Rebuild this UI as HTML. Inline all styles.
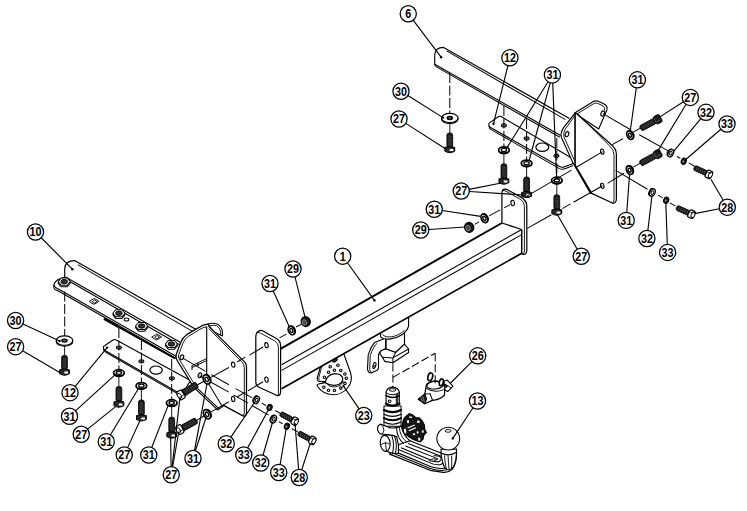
<!DOCTYPE html>
<html><head><meta charset="utf-8"><title>Towbar exploded view</title>
<style>html,body{margin:0;padding:0;background:#fff;overflow:hidden;font-family:"Liberation Sans",sans-serif}svg{display:block}svg text{font-family:"Liberation Sans",sans-serif}</style></head>
<body>
<svg width="747" height="511" viewBox="0 0 747 511">
<rect width="747" height="511" fill="#fff"/>
<path d="M343.7,353.5 L350.6,373.0 Q353.2,381.5 347.5,388.0 Q341.5,394.8 333.5,394.8 Q322.5,394.2 317.4,386.2 Q316.6,384.4 318.6,384.0 L325.2,382.6 L325,381.6 L318.6,381.4 Q316.8,379.8 317.3,377.6 L320.4,367.0 L320.4,364 Z" stroke="#000" stroke-width="1.12" fill="#fff" stroke-linejoin="round" stroke-linecap="round" />
<path d="M321.8,366.5 L318.8,377.4 Q318.6,379.6 319.8,380.4" stroke="#000" stroke-width="0.9" fill="none" stroke-linejoin="round" stroke-linecap="round" />
<path d="M325.2,382.6 Q326.5,374.8 334.5,373.6 Q342.6,373.6 342.8,379.4 Q342.2,384.8 334.5,385.4 Q329,385.6 325.4,382.8" stroke="#000" stroke-width="1.12" fill="none" stroke-linejoin="round" stroke-linecap="round" />
<path d="M327.8,384.6 Q329,387 334.6,386.9 Q341.4,386.4 343.2,381.5" stroke="#000" stroke-width="0.9" fill="none" stroke-linejoin="round" stroke-linecap="round" />
<ellipse cx="330.20" cy="366.80" rx="1.25" ry="1.25" stroke="#000" stroke-width="1.12" fill="#fff"/>
<ellipse cx="337.90" cy="365.20" rx="1.25" ry="1.25" stroke="#000" stroke-width="1.12" fill="#fff"/>
<ellipse cx="334.40" cy="370.30" rx="1.25" ry="1.25" stroke="#000" stroke-width="1.12" fill="#fff"/>
<ellipse cx="340.80" cy="370.50" rx="1.25" ry="1.25" stroke="#000" stroke-width="1.12" fill="#fff"/>
<ellipse cx="328.50" cy="372.30" rx="1.25" ry="1.25" stroke="#000" stroke-width="1.12" fill="#fff"/>
<ellipse cx="344.90" cy="374.00" rx="1.25" ry="1.25" stroke="#000" stroke-width="1.12" fill="#fff"/>
<ellipse cx="324.40" cy="377.30" rx="1.25" ry="1.25" stroke="#000" stroke-width="1.12" fill="#fff"/>
<ellipse cx="346.30" cy="378.20" rx="1.25" ry="1.25" stroke="#000" stroke-width="1.12" fill="#fff"/>
<ellipse cx="344.90" cy="383.40" rx="1.25" ry="1.25" stroke="#000" stroke-width="1.12" fill="#fff"/>
<ellipse cx="340.80" cy="388.10" rx="1.25" ry="1.25" stroke="#000" stroke-width="1.12" fill="#fff"/>
<ellipse cx="334.40" cy="390.50" rx="1.25" ry="1.25" stroke="#000" stroke-width="1.12" fill="#fff"/>
<ellipse cx="328.50" cy="390.30" rx="1.25" ry="1.25" stroke="#000" stroke-width="1.12" fill="#fff"/>
<ellipse cx="323.80" cy="387.30" rx="1.25" ry="1.25" stroke="#000" stroke-width="1.12" fill="#fff"/>
<ellipse cx="335.00" cy="360.30" rx="2.60" ry="1.30" stroke="#000" stroke-width="1.01" fill="#333" transform="rotate(-28 335.00 360.30)"/>
<path d="M386,333 L386,349 L395.6,352.5 L404.5,344.2 L404.5,326" stroke="#000" stroke-width="1.12" fill="#fff" stroke-linejoin="round" stroke-linecap="round" />
<path d="M380.5,330 L380.5,336.7 C384,340.6 394.2,339.7 401.1,335.3 C405.2,332.6 407.9,329.2 408.6,325.8 L408.6,315 Z" stroke="#000" stroke-width="1.12" fill="#fff" stroke-linejoin="round" stroke-linecap="round" />
<path d="M382.6,334.7 C386,338.5 396,338 404.5,330.5" stroke="#000" stroke-width="0.9" fill="none" stroke-linejoin="round" stroke-linecap="round" />
<path d="M386,349 Q381.5,349.6 380.5,351.1 L379.9,353.8 L382.6,357.3 L384.7,361.4 L392.9,362.7 L408.6,352.5 L408.6,349 L404.5,344.2 L395.6,352.5 Z" stroke="#000" stroke-width="1.12" fill="#fff" stroke-linejoin="round" stroke-linecap="round" />
<path d="M382.6,357.3 L392.9,357.9 L408.6,349 M392.9,357.9 L392.9,362.7 M392.9,357.9 L395.6,352.5" stroke="#000" stroke-width="1.01" fill="none" stroke-linejoin="round" stroke-linecap="round" />
<path d="M384,338.8 L375.1,342.2 Q371.5,345 368.2,355.2 L367.5,368.9 Q367.8,372.6 371,373 L377.1,370.3 Q378.4,369.6 378.5,368 L378.5,355.2 Q379,352.4 380.5,351.1 L385.6,348.4 L385.6,339" stroke="#000" stroke-width="1.12" fill="#fff" stroke-linejoin="round" stroke-linecap="round" />
<path d="M377,343.4 Q373.4,346 370.3,355.6 L369.7,369.4 Q370,372 371.4,372.6" stroke="#000" stroke-width="0.9" fill="none" stroke-linejoin="round" stroke-linecap="round" />
<ellipse cx="374.40" cy="365.50" rx="1.40" ry="3.20" stroke="#000" stroke-width="1.01" fill="#fff" transform="rotate(15 374.40 365.50)"/>
<ellipse cx="374.40" cy="366.20" rx="0.70" ry="1.30" stroke="#000" stroke-width="0.78" fill="none" transform="rotate(15 374.40 366.20)"/>
<path d="M280.5,348.8 L501.9,223.0 L521.7,229.5 L521.7,253.3 L281.6,388.8 Z" stroke="#000" stroke-width="0.0" fill="#fff" stroke-linejoin="round" stroke-linecap="round" stroke="none"/>
<line x1="280.50" y1="348.80" x2="501.90" y2="223.00" stroke="#000" stroke-width="1.96" />
<line x1="281.60" y1="364.80" x2="521.70" y2="229.50" stroke="#000" stroke-width="1.06" />
<line x1="281.60" y1="370.40" x2="521.70" y2="234.60" stroke="#000" stroke-width="1.06" />
<line x1="281.60" y1="388.80" x2="521.70" y2="253.30" stroke="#000" stroke-width="1.68" />
<path d="M255.8,337 Q255.8,330.6 261.5,330.3 L276,338.2 Q280.6,340.8 280.6,345.5 L280.6,391.5 Q280.6,396.5 276.5,395.3 L259,387.2 Q255.8,385.6 255.8,381.5 Z" stroke="#000" stroke-width="1.23" fill="#fff" stroke-linejoin="round" stroke-linecap="round" />
<path d="M257.0,332.6 Q258.5,332.2 260.6,333.2 L274.6,340.8 Q278.4,343 278.4,347 L278.4,393.6 Q278.3,395.6 276.8,395.4" stroke="#000" stroke-width="0.9" fill="none" stroke-linejoin="round" stroke-linecap="round" />
<ellipse cx="266.50" cy="345.20" rx="1.70" ry="2.60" stroke="#000" stroke-width="1.12" fill="#fff" transform="rotate(-10 266.50 345.20)"/>
<ellipse cx="266.50" cy="379.60" rx="1.70" ry="2.60" stroke="#000" stroke-width="1.12" fill="#fff" transform="rotate(-10 266.50 379.60)"/>
<path d="M501.9,223.0 L501.9,193.5 Q501.9,188.2 506.5,189.3 L520.5,196.9 Q526.8,200.6 526.8,206 L526.8,250 Q526.8,255 522.8,254.4 L521.7,253.3 L521.7,229.5 Z" stroke="#000" stroke-width="1.23" fill="#fff" stroke-linejoin="round" stroke-linecap="round" />
<path d="M503.0,190.6 Q504.4,190.4 506,191.2 L519.4,198.8 Q524.4,201.6 524.4,206.6 L524.4,251 Q524.3,254 522.8,254.4" stroke="#000" stroke-width="0.9" fill="none" stroke-linejoin="round" stroke-linecap="round" />
<line x1="521.70" y1="229.50" x2="521.70" y2="253.30" stroke="#000" stroke-width="1.01" />
<ellipse cx="512.70" cy="203.00" rx="1.80" ry="2.70" stroke="#000" stroke-width="1.12" fill="#fff" transform="rotate(-10 512.70 203.00)"/>
<path d="M103.4,347.2 Q103.2,349.6 105.5,350.8 L177.5,392.2 L186,388 L190.5,380.6 L116.2,340.0 Q114.6,339.0 113,340.0 L104.5,345.8 Q103.5,346.4 103.4,347.2 Z" stroke="#000" stroke-width="1.12" fill="#fff" stroke-linejoin="round" stroke-linecap="round" />
<path d="M103.5,348.8 Q103.8,351.0 105.8,352.3 L177.4,393.6" stroke="#000" stroke-width="1.01" fill="none" stroke-linejoin="round" stroke-linecap="round" />
<ellipse cx="118.90" cy="347.60" rx="2.50" ry="1.60" stroke="#000" stroke-width="1.01" fill="none"/>
<ellipse cx="118.90" cy="347.60" rx="1.20" ry="0.80" stroke="#000" stroke-width="0.9" fill="none"/>
<ellipse cx="141.40" cy="361.30" rx="2.50" ry="1.60" stroke="#000" stroke-width="1.01" fill="none"/>
<ellipse cx="141.40" cy="361.30" rx="1.20" ry="0.80" stroke="#000" stroke-width="0.9" fill="none"/>
<ellipse cx="171.90" cy="378.30" rx="2.50" ry="1.60" stroke="#000" stroke-width="1.01" fill="none"/>
<ellipse cx="171.90" cy="378.30" rx="1.20" ry="0.80" stroke="#000" stroke-width="0.9" fill="none"/>
<ellipse cx="156.10" cy="370.10" rx="6.20" ry="4.10" stroke="#000" stroke-width="1.23" fill="none"/>
<path d="M64.7,277.3 L64.7,268.5 Q65.2,260.6 74.6,260.6 L196.6,329.8 L181,343 L175.8,358.2 L57.5,290.6 Q53,289 53.8,284 L58,279.5 Z" stroke="#000" stroke-width="0.0" fill="#fff" stroke-linejoin="round" stroke-linecap="round" stroke="none"/>
<path d="M64.7,277.3 L64.7,268.5 Q65.2,260.6 74.6,260.6 L196.6,329.8" stroke="#000" stroke-width="1.12" fill="none" stroke-linejoin="round" stroke-linecap="round" />
<line x1="77.80" y1="264.60" x2="193.00" y2="331.60" stroke="#000" stroke-width="1.01" />
<line x1="65.50" y1="277.00" x2="181.50" y2="343.00" stroke="#000" stroke-width="1.01" />
<line x1="65.00" y1="278.80" x2="180.50" y2="345.20" stroke="#000" stroke-width="1.01" />
<path d="M64.7,277.3 L58,279.5 Q53,283 53.8,287.6 Q54.5,290 57.5,290.6 L175.8,358.2" stroke="#000" stroke-width="1.12" fill="none" stroke-linejoin="round" stroke-linecap="round" />
<path d="M54.2,285.3 Q55,288 58,288.8 L176,356.2" stroke="#000" stroke-width="1.01" fill="none" stroke-linejoin="round" stroke-linecap="round" />
<line x1="104.00" y1="318.60" x2="119.00" y2="327.20" stroke="#000" stroke-width="2.46" />
<line x1="119.00" y1="327.20" x2="175.00" y2="358.50" stroke="#000" stroke-width="1.79" />
<path d="M89.5,301.3 L94.3,298.40000000000003 L99.1,301.3 L94.3,304.2 Z M92.49999999999999,301.5 L94.7,299.85 L97.10000000000001,301.5 L94.7,303.05 Z" stroke="#000" stroke-width="0.9" fill="none" stroke-linejoin="round" stroke-linecap="round" />
<path d="M152.0,336.9 L156.8,334.0 L161.60000000000002,336.9 L156.8,339.79999999999995 Z M155.0,337.09999999999997 L157.20000000000002,335.45 L159.60000000000002,337.09999999999997 L157.20000000000002,338.65 Z" stroke="#000" stroke-width="0.9" fill="none" stroke-linejoin="round" stroke-linecap="round" />
<ellipse cx="126.50" cy="319.60" rx="2.30" ry="1.50" stroke="#000" stroke-width="1.01" fill="none"/>
<path d="M58.10,283.20 L61.03,279.66 L67.37,279.66 L70.30,283.20 L67.37,286.74 L61.03,286.74 Z" stroke="#000" stroke-width="1.01" fill="#fff" stroke-linejoin="round" stroke-linecap="round" />
<path d="M58.10,281.60 L61.03,278.06 L67.37,278.06 L70.30,281.60 L67.37,285.14 L61.03,285.14 Z" stroke="#000" stroke-width="1.01" fill="#fff" stroke-linejoin="round" stroke-linecap="round" />
<ellipse cx="64.20" cy="281.60" rx="3.29" ry="2.20" stroke="#000" stroke-width="0.9" fill="#333"/>
<path d="M112.80,314.90 L115.73,311.36 L122.07,311.36 L125.00,314.90 L122.07,318.44 L115.73,318.44 Z" stroke="#000" stroke-width="1.01" fill="#fff" stroke-linejoin="round" stroke-linecap="round" />
<path d="M112.80,313.30 L115.73,309.76 L122.07,309.76 L125.00,313.30 L122.07,316.84 L115.73,316.84 Z" stroke="#000" stroke-width="1.01" fill="#fff" stroke-linejoin="round" stroke-linecap="round" />
<ellipse cx="118.90" cy="313.30" rx="3.29" ry="2.20" stroke="#000" stroke-width="0.9" fill="#333"/>
<path d="M135.50,327.60 L138.43,324.06 L144.77,324.06 L147.70,327.60 L144.77,331.14 L138.43,331.14 Z" stroke="#000" stroke-width="1.01" fill="#fff" stroke-linejoin="round" stroke-linecap="round" />
<path d="M135.50,326.00 L138.43,322.46 L144.77,322.46 L147.70,326.00 L144.77,329.54 L138.43,329.54 Z" stroke="#000" stroke-width="1.01" fill="#fff" stroke-linejoin="round" stroke-linecap="round" />
<ellipse cx="141.60" cy="326.00" rx="3.29" ry="2.20" stroke="#000" stroke-width="0.9" fill="#333"/>
<path d="M165.30,345.60 L168.23,342.06 L174.57,342.06 L177.50,345.60 L174.57,349.14 L168.23,349.14 Z" stroke="#000" stroke-width="1.01" fill="#fff" stroke-linejoin="round" stroke-linecap="round" />
<path d="M165.30,344.00 L168.23,340.46 L174.57,340.46 L177.50,344.00 L174.57,347.54 L168.23,347.54 Z" stroke="#000" stroke-width="1.01" fill="#fff" stroke-linejoin="round" stroke-linecap="round" />
<ellipse cx="171.40" cy="344.00" rx="3.29" ry="2.20" stroke="#000" stroke-width="0.9" fill="#333"/>
<path d="M208,324 Q212,322.4 217.1,324.0 Q221.6,326.5 222.4,331 L222.5,336 L214,332 Z" stroke="#000" stroke-width="1.12" fill="#fff" stroke-linejoin="round" stroke-linecap="round" />
<path d="M210.5,325.6 Q214,324.6 216.6,325.8 Q219.8,327.6 220.6,331.2 L220.7,334.4" stroke="#000" stroke-width="0.9" fill="none" stroke-linejoin="round" stroke-linecap="round" />
<path d="M208,324.2 Q203,324.6 199,327.4 L187,334.4 Q182.5,337.5 180.8,342.2 L176.2,354.5 Q175.4,357.6 177.0,360.2 L193.8,387.4 L217.6,409.9 L224,405.6 L242.5,415.6 Q246.5,417.4 246.5,412.5 L246.5,367 Q246.5,362.8 243,360.4 L209,326.6 Q208.6,324.4 208,324.2 Z" stroke="#000" stroke-width="1.23" fill="#fff" stroke-linejoin="round" stroke-linecap="round" />
<path d="M206.7,326.8 Q203,327.2 200,329.3 L188.5,336.3 Q184.6,338.8 183,343 L178.6,355 Q178,357.3 179.3,359.4 L195.2,385.4" stroke="#000" stroke-width="0.9" fill="none" stroke-linejoin="round" stroke-linecap="round" />
<line x1="206.70" y1="326.80" x2="206.70" y2="377.50" stroke="#000" stroke-width="1.12" />
<path d="M209,328.8 L241.5,361.6 Q244.3,364 244.3,367.5 L244.3,413 Q244.2,415.8 242.6,415.7" stroke="#000" stroke-width="0.9" fill="none" stroke-linejoin="round" stroke-linecap="round" />
<line x1="207.20" y1="381.50" x2="222.20" y2="406.20" stroke="#000" stroke-width="1.01" />
<line x1="195.00" y1="386.20" x2="218.60" y2="408.40" stroke="#000" stroke-width="1.01" />
<ellipse cx="181.90" cy="357.30" rx="1.70" ry="2.50" stroke="#000" stroke-width="1.12" fill="#fff" transform="rotate(20 181.90 357.30)"/>
<ellipse cx="199.90" cy="375.30" rx="1.70" ry="2.50" stroke="#000" stroke-width="1.12" fill="#fff" transform="rotate(20 199.90 375.30)"/>
<ellipse cx="233.20" cy="364.70" rx="1.70" ry="2.60" stroke="#000" stroke-width="1.12" fill="#fff" transform="rotate(-10 233.20 364.70)"/>
<ellipse cx="233.20" cy="399.00" rx="1.70" ry="2.60" stroke="#000" stroke-width="1.12" fill="#fff" transform="rotate(-10 233.20 399.00)"/>
<path d="M192,365.6 L206.5,358.6 M192,367.6 L206.5,360.6 M192,365.6 L192,369.5 M198,363 L198,366" stroke="#000" stroke-width="1.01" fill="none" stroke-linejoin="round" stroke-linecap="round" />
<path d="M488.8,124.3 Q488.6,126.4 490.6,127.5 L559.5,166.6 Q562,167.8 564.5,166.8 L572,164.0 L575,160 L501.2,116.6 Q499.6,115.8 498.2,116.8 L489.8,122.6 Q488.9,123.3 488.8,124.3 Z" stroke="#000" stroke-width="1.12" fill="#fff" stroke-linejoin="round" stroke-linecap="round" />
<path d="M489.0,126.4 Q489.4,128.6 491.2,129.6 L559.4,168.6 Q562.4,169.8 565,168.8 L572.6,165.8" stroke="#000" stroke-width="1.01" fill="none" stroke-linejoin="round" stroke-linecap="round" />
<ellipse cx="503.90" cy="125.40" rx="2.50" ry="1.60" stroke="#000" stroke-width="1.01" fill="none"/>
<ellipse cx="503.90" cy="125.40" rx="1.20" ry="0.80" stroke="#000" stroke-width="0.9" fill="none"/>
<ellipse cx="526.60" cy="138.40" rx="2.50" ry="1.60" stroke="#000" stroke-width="1.01" fill="none"/>
<ellipse cx="526.60" cy="138.40" rx="1.20" ry="0.80" stroke="#000" stroke-width="0.9" fill="none"/>
<ellipse cx="556.40" cy="155.80" rx="2.50" ry="1.60" stroke="#000" stroke-width="1.01" fill="none"/>
<ellipse cx="556.40" cy="155.80" rx="1.20" ry="0.80" stroke="#000" stroke-width="0.9" fill="none"/>
<ellipse cx="542.30" cy="147.20" rx="6.40" ry="4.20" stroke="#000" stroke-width="1.23" fill="none"/>
<path d="M434.7,64.2 L434.7,55 Q435,47.4 443.6,47.4 L569,118.2 L560.5,136.6 Z" stroke="#000" stroke-width="0.0" fill="#fff" stroke-linejoin="round" stroke-linecap="round" stroke="none"/>
<path d="M434.7,64.2 L434.7,55 Q435,47.4 443.6,47.4 L569,118.2" stroke="#000" stroke-width="1.12" fill="none" stroke-linejoin="round" stroke-linecap="round" />
<line x1="446.60" y1="50.90" x2="565.40" y2="119.60" stroke="#000" stroke-width="1.01" />
<line x1="434.70" y1="64.20" x2="560.60" y2="135.40" stroke="#000" stroke-width="1.12" />
<line x1="435.60" y1="66.40" x2="559.80" y2="137.20" stroke="#000" stroke-width="1.01" />
<line x1="434.70" y1="64.20" x2="435.60" y2="66.40" stroke="#000" stroke-width="1.01" />
<path d="M575.2,112.8 L592.5,102.0 Q595.4,100.2 598.4,101.2 L604.5,104.2 Q608,106.4 606.8,110 L598.7,129 L576,114 Z" stroke="#000" stroke-width="1.12" fill="#fff" stroke-linejoin="round" stroke-linecap="round" />
<path d="M577.2,113.8 L593.5,103.8 Q595.6,102.6 597.8,103.4 L603.2,106 Q605.4,107.4 604.6,110" stroke="#000" stroke-width="0.9" fill="none" stroke-linejoin="round" stroke-linecap="round" />
<ellipse cx="602.70" cy="113.50" rx="1.70" ry="2.60" stroke="#000" stroke-width="1.12" fill="#fff" transform="rotate(20 602.70 113.50)"/>
<path d="M575.2,112.8 L563.6,127.6 Q560.2,132.6 561.3,137.2 L572.9,162.8 L590.5,193.4 L591.7,193.4 L575.2,165 Z" stroke="#000" stroke-width="1.12" fill="#fff" stroke-linejoin="round" stroke-linecap="round" />
<path d="M574.2,116.6 L565.6,128.6 Q563,132.6 563.8,136.6 L575.2,162.0 L592.6,192.0" stroke="#000" stroke-width="0.9" fill="none" stroke-linejoin="round" stroke-linecap="round" />
<line x1="575.20" y1="112.80" x2="575.20" y2="165.20" stroke="#000" stroke-width="1.12" />
<ellipse cx="567.00" cy="134.20" rx="1.70" ry="2.60" stroke="#000" stroke-width="1.12" fill="#fff" transform="rotate(20 567.00 134.20)"/>
<path d="M576.4,113.5 L610.8,144.2 Q616.4,148.4 616.4,154.5 L616.4,198.5 Q616.4,204 611.8,202.8 L591.7,193.4 L575.2,165.2 L575.2,112.8 Z" stroke="#000" stroke-width="1.23" fill="#fff" stroke-linejoin="round" stroke-linecap="round" />
<path d="M578.6,114.6 L609.4,145.8 Q614,149.4 614,155 L614,199.6 Q614,202.6 612.4,202.9" stroke="#000" stroke-width="0.9" fill="none" stroke-linejoin="round" stroke-linecap="round" />
<ellipse cx="602.30" cy="151.60" rx="1.70" ry="2.60" stroke="#000" stroke-width="1.12" fill="#fff" transform="rotate(-10 602.30 151.60)"/>
<ellipse cx="602.30" cy="185.90" rx="1.70" ry="2.60" stroke="#000" stroke-width="1.12" fill="#fff" transform="rotate(-10 602.30 185.90)"/>
<path d="M398.42,442.12 L409.87,440.71 L441.57,453.21 L456.54,451.81 Q456.89,463.25 452.13,469.42 Q447.73,473.47 441.57,472.06 L430.12,470.30 L389.61,454.10 Z " stroke="#000" stroke-width="1.23" fill="#fff" stroke-linejoin="round" stroke-linecap="round" />
<line x1="408.10" y1="443.53" x2="441.04" y2="456.21" stroke="#000" stroke-width="1.01" />
<line x1="405.46" y1="445.99" x2="438.04" y2="458.85" stroke="#000" stroke-width="1.01" />
<line x1="401.06" y1="447.75" x2="433.99" y2="461.49" stroke="#000" stroke-width="1.12" />
<line x1="398.42" y1="449.52" x2="431.88" y2="463.61" stroke="#000" stroke-width="1.01" />
<line x1="394.90" y1="451.63" x2="431.00" y2="466.78" stroke="#000" stroke-width="1.12" />
<line x1="392.78" y1="453.04" x2="430.12" y2="468.54" stroke="#000" stroke-width="1.01" />
<path d="M433.99,461.49 Q441.57,462.90 441.04,457.97 Q439.81,455.33 433.99,455.86 " stroke="#000" stroke-width="1.01" fill="none" stroke-linejoin="round" stroke-linecap="round" />
<path d="M431.88,463.61 Q442.45,466.78 443.86,461.49 " stroke="#000" stroke-width="1.01" fill="none" stroke-linejoin="round" stroke-linecap="round" />
<path d="M431.00,466.78 Q443.33,470.30 447.73,466.78 " stroke="#000" stroke-width="1.01" fill="none" stroke-linejoin="round" stroke-linecap="round" />
<path d="M430.12,468.54 Q442.45,472.06 449.49,468.89 " stroke="#000" stroke-width="1.01" fill="none" stroke-linejoin="round" stroke-linecap="round" />
<path d="M430.12,459.73 Q433.64,457.97 437.52,459.38 Q433.99,461.84 430.12,461.14 Z " stroke="#000" stroke-width="0.9" fill="#fff" stroke-linejoin="round" stroke-linecap="round" />
<path d="M441.04,449.16 L441.04,453.57 Q442.10,463.25 445.09,468.18 Q449.49,472.06 453.37,466.78 Q456.54,461.49 456.54,449.16 Z " stroke="#000" stroke-width="1.12" fill="#fff" stroke-linejoin="round" stroke-linecap="round" />
<path d="M441.04,453.04 Q448.79,457.09 456.54,452.33 " stroke="#000" stroke-width="1.12" fill="none" stroke-linejoin="round" stroke-linecap="round" />
<path d="M444.56,455.86 Q444.91,463.25 446.32,468.89 " stroke="#000" stroke-width="0.9" fill="none" stroke-linejoin="round" stroke-linecap="round" />
<path d="M448.08,455.86 Q448.44,463.25 448.96,468.89 " stroke="#000" stroke-width="0.9" fill="none" stroke-linejoin="round" stroke-linecap="round" />
<path d="M451.61,455.86 Q451.96,463.25 451.61,468.89 " stroke="#000" stroke-width="0.9" fill="none" stroke-linejoin="round" stroke-linecap="round" />
<circle cx="448.26" cy="438.60" r="11.4" fill="#fff" stroke="#000" stroke-width="1.1"/>
<ellipse cx="448.08" cy="430.85" rx="3.00" ry="1.40" stroke="#000" stroke-width="0.9" fill="none"/>
<path d="M402.46,423.62 L403.58,419.16 L406.18,416.18 L409.16,413.58 L412.88,415.07 L415.86,417.67 L419.58,418.04 L422.55,421.39 L424.41,425.11 L424.79,429.58 L426.42,432.55 L424.04,434.79 L422.93,439.25 L420.32,441.85 L416.60,440.74 L412.88,439.25 L409.16,437.02 L405.44,434.04 L402.61,430.32 Z" stroke="#000" stroke-width="1.12" fill="#151515" stroke-linejoin="round" stroke-linecap="round" />
<path d="M407.30,427.49 L414.52,424.52 L414.96,425.56 L407.82,428.54 Z" fill="#fff" stroke="none"/>
<path d="M408.42,430.17 L415.71,427.20 L416.15,428.24 L409.01,431.21 Z" fill="#fff" stroke="none"/>
<path d="M403.80,429.21 L405.81,428.46 L406.33,432.93 L404.70,433.67 Z" fill="#fff" stroke="none"/>
<path d="M409.16,416.33 L411.99,416.78 L412.14,418.12 L409.31,417.82 Z" fill="#fff" stroke="none"/>
<path d="M416.97,420.80 L419.43,420.50 L419.73,422.73 L417.20,423.03 Z" fill="#fff" stroke="none"/>
<path d="M412.88,433.45 L414.96,433.15 L415.26,434.93 L413.18,435.23 Z" fill="#fff" stroke="none"/>
<path d="M416.60,431.51 L418.39,431.21 L418.68,433.15 L416.90,433.45 Z" fill="#fff" stroke="none"/>
<path d="M421.81,430.47 L423.60,430.17 L423.74,432.40 L421.96,432.70 Z" fill="#fff" stroke="none"/>
<path d="M418.09,437.91 L420.17,437.61 L420.32,440.59 L418.39,440.74 Z" fill="#fff" stroke="none"/>
<path d="M406.93,420.28 L408.79,419.90 L409.16,422.88 L407.30,423.25 Z" fill="#fff" stroke="none"/>
<path d="M383.98,425.39 L383.98,430.67 Q385.21,436.84 389.61,439.48 L398.42,444.76 L409.87,440.71 Q403.35,435.95 401.06,425.39 Z " stroke="#000" stroke-width="1.12" fill="#fff" stroke-linejoin="round" stroke-linecap="round" />
<path d="M396.66,428.03 Q396.66,437.72 403.70,443.53 " stroke="#000" stroke-width="1.01" fill="none" stroke-linejoin="round" stroke-linecap="round" />
<path d="M399.30,427.15 Q399.83,436.84 406.87,442.12 " stroke="#000" stroke-width="0.9" fill="none" stroke-linejoin="round" stroke-linecap="round" />
<rect x="383.98" y="406.01" width="17.08" height="20.25" fill="#fff" stroke="#000" stroke-width="1"/>
<path d="M383.98,410.07 Q392.43,414.29 401.06,410.07 " stroke="#000" stroke-width="2.24" fill="none" stroke-linejoin="round" stroke-linecap="round" />
<path d="M383.98,414.29 Q392.43,418.52 401.06,414.29 " stroke="#000" stroke-width="1.12" fill="none" stroke-linejoin="round" stroke-linecap="round" />
<path d="M383.98,418.17 Q392.43,422.39 401.06,418.17 " stroke="#000" stroke-width="2.02" fill="none" stroke-linejoin="round" stroke-linecap="round" />
<path d="M383.98,422.04 Q392.43,426.27 401.06,422.04 " stroke="#000" stroke-width="1.01" fill="none" stroke-linejoin="round" stroke-linecap="round" />
<path d="M383.98,425.92 Q392.43,430.14 401.06,425.92 " stroke="#000" stroke-width="1.12" fill="none" stroke-linejoin="round" stroke-linecap="round" />
<path d="M386.09,403.73 L386.09,391.93 Q386.79,387.87 392.61,387.17 Q398.42,387.87 399.30,391.93 L399.30,403.73 Q392.61,407.60 386.09,403.73 Z " stroke="#000" stroke-width="1.12" fill="#fff" stroke-linejoin="round" stroke-linecap="round" />
<path d="M386.09,392.81 Q392.61,396.68 399.30,392.81 " stroke="#000" stroke-width="1.01" fill="none" stroke-linejoin="round" stroke-linecap="round" />
<path d="M386.09,395.62 Q392.61,399.50 399.30,395.62 " stroke="#000" stroke-width="1.57" fill="none" stroke-linejoin="round" stroke-linecap="round" />
<ellipse cx="392.61" cy="389.99" rx="3.40" ry="1.30" stroke="#000" stroke-width="0.9" fill="none"/>
<ellipse cx="389.61" cy="401.26" rx="1.40" ry="1.20" stroke="#000" stroke-width="1.01" fill="none"/>
<path d="M397.71,394.21 L397.71,404.43 M396.30,394.92 L396.30,405.13 " stroke="#000" stroke-width="1.01" fill="none" stroke-linejoin="round" stroke-linecap="round" />
<path d="M386.09,403.73 Q392.61,407.95 399.30,403.73 " stroke="#000" stroke-width="2.46" fill="none" stroke-linejoin="round" stroke-linecap="round" />
<path d="M388.73,427.15 L380.81,424.15 Q376.93,425.39 377.64,429.79 Q378.69,433.67 381.69,434.02 L389.61,435.07 " stroke="#000" stroke-width="1.12" fill="#fff" stroke-linejoin="round" stroke-linecap="round" />
<path d="M380.81,424.15 Q383.62,426.27 383.98,430.14 Q383.62,433.31 381.69,434.02 " stroke="#000" stroke-width="0.9" fill="none" stroke-linejoin="round" stroke-linecap="round" />
<path d="M385.21,435.07 Q392.25,434.37 396.66,436.84 L398.42,444.76 L398.42,453.04 Q392.78,454.45 386.09,450.92 Z " stroke="#000" stroke-width="1.12" fill="#fff" stroke-linejoin="round" stroke-linecap="round" />
<ellipse cx="385.21" cy="443.35" rx="4.90" ry="8.00" stroke="#000" stroke-width="1.12" fill="#fff" transform="rotate(-6 385.21 443.35)"/>
<path d="M380.81,444.76 Q385.21,441.24 389.26,443.88 M385.38,442.82 L386.44,450.92 " stroke="#000" stroke-width="0.9" fill="none" stroke-linejoin="round" stroke-linecap="round" />
<path d="M391.73,435.43 Q394.90,443.88 392.43,453.74 M394.54,436.13 Q397.71,444.23 395.25,453.74 " stroke="#000" stroke-width="1.01" fill="none" stroke-linejoin="round" stroke-linecap="round" />
<path d="M444.26,381.04 L447.19,380.06 L452.87,386.23 L447.68,391.52 L443.77,389.36 Z " stroke="#000" stroke-width="1.12" fill="#fff" stroke-linejoin="round" stroke-linecap="round" />
<path d="M444.84,383.98 L447.68,385.64 L446.41,387.60 L444.26,386.43 Z " stroke="#000" stroke-width="0.9" fill="#222" stroke-linejoin="round" stroke-linecap="round" />
<path d="M447.68,385.64 L451.11,387.89 " stroke="#000" stroke-width="0.9" fill="none" stroke-linejoin="round" stroke-linecap="round" />
<path d="M426.15,385.64 L424.88,394.06 L418.32,399.15 L424.68,403.75 L432.32,400.32 Q439.36,399.93 444.45,395.24 L444.84,387.89 Q444.26,382.02 434.96,381.04 Q427.13,381.73 426.15,385.64 Z " stroke="#000" stroke-width="1.23" fill="#fff" stroke-linejoin="round" stroke-linecap="round" />
<ellipse cx="435.25" cy="385.06" rx="8.40" ry="3.90" stroke="#000" stroke-width="1.12" fill="none" transform="rotate(-6 435.25 385.06)"/>
<path d="M426.64,388.38 Q434.47,393.77 444.45,389.36 " stroke="#000" stroke-width="1.01" fill="none" stroke-linejoin="round" stroke-linecap="round" />
<path d="M430.06,393.77 L432.51,400.13 " stroke="#000" stroke-width="1.01" fill="none" stroke-linejoin="round" stroke-linecap="round" />
<path d="M424.88,394.06 L430.06,393.77 " stroke="#000" stroke-width="0.9" fill="none" stroke-linejoin="round" stroke-linecap="round" />
<path d="M418.32,399.15 L424.88,394.06 L426.64,398.95 L424.68,403.75 Z " stroke="#000" stroke-width="1.01" fill="#222" stroke-linejoin="round" stroke-linecap="round" />
<path d="M420.77,397.68 L422.23,401.60 M422.72,396.21 L424.29,402.09 " stroke="#000" stroke-width="0.56" fill="none" stroke-linejoin="round" stroke-linecap="round" style="stroke:#bbb"/>
<ellipse cx="430.26" cy="376.83" rx="2.30" ry="4.00" stroke="#000" stroke-width="1.68" fill="#fff" transform="rotate(14 430.26 376.83)"/>
<ellipse cx="441.32" cy="382.32" rx="1.90" ry="3.50" stroke="#000" stroke-width="1.57" fill="#fff" transform="rotate(14 441.32 382.32)"/>
<line x1="64.70" y1="291.50" x2="64.70" y2="336.00" stroke="#000" stroke-width="1.01" stroke-dasharray="10 2.5"/>
<line x1="64.60" y1="345.00" x2="64.60" y2="356.00" stroke="#000" stroke-width="0.9" />
<ellipse cx="64.50" cy="341.50" rx="8.30" ry="4.70" stroke="#000" stroke-width="1.01" fill="#fff"/>
<ellipse cx="64.50" cy="340.60" rx="8.30" ry="4.70" stroke="#000" stroke-width="1.23" fill="#fff"/>
<ellipse cx="64.50" cy="340.60" rx="2.60" ry="1.50" stroke="#000" stroke-width="1.34" fill="#666"/>
<rect x="61.60" y="355.50" width="5.8" height="14.50" rx="2.2" fill="#1c1c1c" stroke="#000" stroke-width="0.8"/>
<line x1="62.80" y1="358.50" x2="66.20" y2="359.30" stroke="#777" stroke-width="0.45"/>
<line x1="62.80" y1="360.70" x2="66.20" y2="361.50" stroke="#777" stroke-width="0.45"/>
<line x1="62.80" y1="362.90" x2="66.20" y2="363.70" stroke="#777" stroke-width="0.45"/>
<line x1="62.80" y1="365.10" x2="66.20" y2="365.90" stroke="#777" stroke-width="0.45"/>
<line x1="62.80" y1="367.30" x2="66.20" y2="368.10" stroke="#777" stroke-width="0.45"/>
<path d="M59.60,370.00 Q64.50,368.20 69.40,370.00 L69.40,373.60 Q64.50,376.80 59.60,373.60 Z" stroke="#000" stroke-width="1.01" fill="#2a2a2a" stroke-linejoin="round" stroke-linecap="round" />
<rect x="64.30" y="371.60" width="3.8" height="2.0" rx="0.6" fill="#fff" stroke="none"/>
<line x1="118.90" y1="328.00" x2="118.90" y2="369.80" stroke="#000" stroke-width="1.01" stroke-dasharray="10 2.5"/>
<line x1="118.90" y1="375.80" x2="118.90" y2="386.50" stroke="#000" stroke-width="0.9" />
<ellipse cx="118.90" cy="373.50" rx="5.30" ry="3.10" stroke="#000" stroke-width="1.12" fill="#fff"/>
<ellipse cx="118.90" cy="372.80" rx="5.30" ry="3.10" stroke="#000" stroke-width="1.68" fill="#fff"/>
<ellipse cx="118.90" cy="372.80" rx="2.65" ry="1.55" stroke="#000" stroke-width="1.34" fill="#fff"/>
<rect x="116.00" y="386.50" width="5.8" height="15.50" rx="2.2" fill="#1c1c1c" stroke="#000" stroke-width="0.8"/>
<line x1="117.20" y1="389.50" x2="120.60" y2="390.30" stroke="#777" stroke-width="0.45"/>
<line x1="117.20" y1="391.70" x2="120.60" y2="392.50" stroke="#777" stroke-width="0.45"/>
<line x1="117.20" y1="393.90" x2="120.60" y2="394.70" stroke="#777" stroke-width="0.45"/>
<line x1="117.20" y1="396.10" x2="120.60" y2="396.90" stroke="#777" stroke-width="0.45"/>
<line x1="117.20" y1="398.30" x2="120.60" y2="399.10" stroke="#777" stroke-width="0.45"/>
<path d="M114.00,402.00 Q118.90,400.20 123.80,402.00 L123.80,405.60 Q118.90,408.80 114.00,405.60 Z" stroke="#000" stroke-width="1.01" fill="#2a2a2a" stroke-linejoin="round" stroke-linecap="round" />
<rect x="118.70" y="403.60" width="3.8" height="2.0" rx="0.6" fill="#fff" stroke="none"/>
<line x1="141.40" y1="340.00" x2="141.40" y2="382.70" stroke="#000" stroke-width="1.01" stroke-dasharray="10 2.5"/>
<line x1="141.40" y1="388.70" x2="141.40" y2="400.00" stroke="#000" stroke-width="0.9" />
<ellipse cx="141.40" cy="386.40" rx="5.30" ry="3.10" stroke="#000" stroke-width="1.12" fill="#fff"/>
<ellipse cx="141.40" cy="385.70" rx="5.30" ry="3.10" stroke="#000" stroke-width="1.68" fill="#fff"/>
<ellipse cx="141.40" cy="385.70" rx="2.65" ry="1.55" stroke="#000" stroke-width="1.34" fill="#fff"/>
<rect x="138.50" y="400.00" width="5.8" height="15.80" rx="2.2" fill="#1c1c1c" stroke="#000" stroke-width="0.8"/>
<line x1="139.70" y1="403.00" x2="143.10" y2="403.80" stroke="#777" stroke-width="0.45"/>
<line x1="139.70" y1="405.20" x2="143.10" y2="406.00" stroke="#777" stroke-width="0.45"/>
<line x1="139.70" y1="407.40" x2="143.10" y2="408.20" stroke="#777" stroke-width="0.45"/>
<line x1="139.70" y1="409.60" x2="143.10" y2="410.40" stroke="#777" stroke-width="0.45"/>
<line x1="139.70" y1="411.80" x2="143.10" y2="412.60" stroke="#777" stroke-width="0.45"/>
<path d="M136.50,415.80 Q141.40,414.00 146.30,415.80 L146.30,419.40 Q141.40,422.60 136.50,419.40 Z" stroke="#000" stroke-width="1.01" fill="#2a2a2a" stroke-linejoin="round" stroke-linecap="round" />
<rect x="141.20" y="417.40" width="3.8" height="2.0" rx="0.6" fill="#fff" stroke="none"/>
<line x1="171.70" y1="359.00" x2="171.70" y2="399.80" stroke="#000" stroke-width="1.01" stroke-dasharray="10 2.5"/>
<line x1="171.70" y1="405.80" x2="171.70" y2="417.20" stroke="#000" stroke-width="0.9" />
<ellipse cx="171.70" cy="403.50" rx="5.30" ry="3.10" stroke="#000" stroke-width="1.12" fill="#fff"/>
<ellipse cx="171.70" cy="402.80" rx="5.30" ry="3.10" stroke="#000" stroke-width="1.68" fill="#fff"/>
<ellipse cx="171.70" cy="402.80" rx="2.65" ry="1.55" stroke="#000" stroke-width="1.34" fill="#fff"/>
<rect x="168.80" y="417.20" width="5.8" height="15.80" rx="2.2" fill="#1c1c1c" stroke="#000" stroke-width="0.8"/>
<line x1="170.00" y1="420.20" x2="173.40" y2="421.00" stroke="#777" stroke-width="0.45"/>
<line x1="170.00" y1="422.40" x2="173.40" y2="423.20" stroke="#777" stroke-width="0.45"/>
<line x1="170.00" y1="424.60" x2="173.40" y2="425.40" stroke="#777" stroke-width="0.45"/>
<line x1="170.00" y1="426.80" x2="173.40" y2="427.60" stroke="#777" stroke-width="0.45"/>
<line x1="170.00" y1="429.00" x2="173.40" y2="429.80" stroke="#777" stroke-width="0.45"/>
<path d="M166.80,433.00 Q171.70,431.20 176.60,433.00 L176.60,436.60 Q171.70,439.80 166.80,436.60 Z" stroke="#000" stroke-width="1.01" fill="#2a2a2a" stroke-linejoin="round" stroke-linecap="round" />
<rect x="171.50" y="434.60" width="3.8" height="2.0" rx="0.6" fill="#fff" stroke="none"/>
<line x1="196.01" y1="385.55" x2="206.96" y2="379.81" stroke="#000" stroke-width="1.01" />
<line x1="211.06" y1="377.34" x2="228.86" y2="367.49" stroke="#000" stroke-width="1.01" />
<line x1="237.07" y1="362.01" x2="245.28" y2="357.08" stroke="#000" stroke-width="1.01" />
<line x1="249.39" y1="355.17" x2="263.07" y2="346.96" stroke="#000" stroke-width="1.01" />
<line x1="279.50" y1="337.92" x2="286.34" y2="334.09" stroke="#000" stroke-width="1.01" />
<line x1="295.92" y1="326.97" x2="301.40" y2="324.23" stroke="#000" stroke-width="1.01" />
<line x1="196.01" y1="420.87" x2="206.96" y2="414.02" stroke="#000" stroke-width="1.01" />
<line x1="211.06" y1="411.83" x2="228.86" y2="401.71" stroke="#000" stroke-width="1.01" />
<line x1="237.07" y1="397.05" x2="245.28" y2="392.12" stroke="#000" stroke-width="1.01" />
<line x1="248.02" y1="390.76" x2="263.07" y2="381.72" stroke="#000" stroke-width="1.01" />
<line x1="182.32" y1="357.91" x2="205.59" y2="371.32" stroke="#000" stroke-width="1.01" />
<line x1="211.06" y1="374.60" x2="228.86" y2="384.73" stroke="#000" stroke-width="1.01" />
<line x1="235.70" y1="388.57" x2="252.12" y2="397.87" stroke="#000" stroke-width="1.01" />
<line x1="261.71" y1="403.07" x2="265.81" y2="405.54" stroke="#000" stroke-width="1.01" />
<line x1="275.39" y1="410.47" x2="280.05" y2="413.20" stroke="#000" stroke-width="1.01" />
<line x1="199.56" y1="375.70" x2="205.59" y2="379.26" stroke="#000" stroke-width="1.01" />
<line x1="211.06" y1="382.27" x2="228.86" y2="392.12" stroke="#000" stroke-width="1.01" />
<line x1="233.51" y1="394.86" x2="248.02" y2="403.07" stroke="#000" stroke-width="1.01" />
<line x1="252.12" y1="405.54" x2="268.55" y2="415.12" stroke="#000" stroke-width="1.01" />
<line x1="278.95" y1="421.69" x2="282.78" y2="423.88" stroke="#000" stroke-width="1.01" />
<line x1="291.82" y1="428.81" x2="298.11" y2="432.09" stroke="#000" stroke-width="1.01" />
<g transform="translate(197.00 384.40) rotate(146.74)">
<rect x="0" y="-3.1" width="16.74" height="6.2" rx="1.8" fill="#1c1c1c" stroke="#000" stroke-width="0.8"/>
<line x1="2.20" y1="-2.1" x2="3.00" y2="2.1" stroke="#777" stroke-width="0.45"/>
<line x1="4.40" y1="-2.1" x2="5.20" y2="2.1" stroke="#777" stroke-width="0.45"/>
<line x1="6.60" y1="-2.1" x2="7.40" y2="2.1" stroke="#777" stroke-width="0.45"/>
<line x1="8.80" y1="-2.1" x2="9.60" y2="2.1" stroke="#777" stroke-width="0.45"/>
<line x1="11.00" y1="-2.1" x2="11.80" y2="2.1" stroke="#777" stroke-width="0.45"/>
<line x1="13.20" y1="-2.1" x2="14.00" y2="2.1" stroke="#777" stroke-width="0.45"/>
<rect x="16.24" y="-4.5" width="6.0" height="9.0" rx="1.8" fill="#fff" stroke="#000" stroke-width="1.2"/>
<ellipse cx="20.94" cy="0" rx="1.8" ry="2.9" fill="#fff" stroke="#000" stroke-width="0.9"/>
<line x1="16.24" y1="-1.5" x2="20.44" y2="-1.5" stroke="#000" stroke-width="0.7"/>
</g>
<g transform="translate(196.60 420.40) rotate(151.35)">
<rect x="0" y="-3.1" width="16.61" height="6.2" rx="1.8" fill="#1c1c1c" stroke="#000" stroke-width="0.8"/>
<line x1="2.20" y1="-2.1" x2="3.00" y2="2.1" stroke="#777" stroke-width="0.45"/>
<line x1="4.40" y1="-2.1" x2="5.20" y2="2.1" stroke="#777" stroke-width="0.45"/>
<line x1="6.60" y1="-2.1" x2="7.40" y2="2.1" stroke="#777" stroke-width="0.45"/>
<line x1="8.80" y1="-2.1" x2="9.60" y2="2.1" stroke="#777" stroke-width="0.45"/>
<line x1="11.00" y1="-2.1" x2="11.80" y2="2.1" stroke="#777" stroke-width="0.45"/>
<line x1="13.20" y1="-2.1" x2="14.00" y2="2.1" stroke="#777" stroke-width="0.45"/>
<rect x="16.11" y="-4.5" width="6.0" height="9.0" rx="1.8" fill="#fff" stroke="#000" stroke-width="1.2"/>
<ellipse cx="20.81" cy="0" rx="1.8" ry="2.9" fill="#fff" stroke="#000" stroke-width="0.9"/>
<line x1="16.11" y1="-1.5" x2="20.31" y2="-1.5" stroke="#000" stroke-width="0.7"/>
</g>
<ellipse cx="207.50" cy="379.00" rx="3.23" ry="4.90" stroke="#000" stroke-width="1.12" fill="#fff" transform="rotate(-25 207.50 379.00)"/>
<ellipse cx="206.70" cy="379.40" rx="3.23" ry="4.90" stroke="#000" stroke-width="1.68" fill="#fff" transform="rotate(-25 206.70 379.40)"/>
<ellipse cx="206.70" cy="379.40" rx="1.47" ry="2.35" stroke="#000" stroke-width="1.34" fill="#fff" transform="rotate(-25 206.70 379.40)"/>
<ellipse cx="207.80" cy="413.90" rx="3.23" ry="4.90" stroke="#000" stroke-width="1.12" fill="#fff" transform="rotate(-25 207.80 413.90)"/>
<ellipse cx="207.00" cy="414.30" rx="3.23" ry="4.90" stroke="#000" stroke-width="1.68" fill="#fff" transform="rotate(-25 207.00 414.30)"/>
<ellipse cx="207.00" cy="414.30" rx="1.47" ry="2.35" stroke="#000" stroke-width="1.34" fill="#fff" transform="rotate(-25 207.00 414.30)"/>
<ellipse cx="292.20" cy="330.10" rx="2.97" ry="4.50" stroke="#000" stroke-width="1.12" fill="#fff" transform="rotate(-25 292.20 330.10)"/>
<ellipse cx="291.40" cy="330.50" rx="2.97" ry="4.50" stroke="#000" stroke-width="1.68" fill="#fff" transform="rotate(-25 291.40 330.50)"/>
<ellipse cx="291.40" cy="330.50" rx="1.35" ry="2.16" stroke="#000" stroke-width="1.34" fill="#fff" transform="rotate(-25 291.40 330.50)"/>
<ellipse cx="305.70" cy="321.60" rx="4.60" ry="5.00" stroke="#000" stroke-width="1.12" fill="#1a1a1a" transform="rotate(-20 305.70 321.60)"/>
<ellipse cx="304.50" cy="322.40" rx="2.10" ry="2.75" stroke="#999" stroke-width="0.78" fill="#444" transform="rotate(-20 304.50 322.40)"/>
<ellipse cx="255.80" cy="399.60" rx="2.57" ry="3.90" stroke="#000" stroke-width="1.12" fill="#fff" transform="rotate(25 255.80 399.60)"/>
<ellipse cx="256.60" cy="400.00" rx="2.57" ry="3.90" stroke="#000" stroke-width="1.29" fill="#fff" transform="rotate(25 256.60 400.00)"/>
<ellipse cx="256.60" cy="400.00" rx="1.25" ry="1.95" stroke="#000" stroke-width="1.01" fill="#fff" transform="rotate(25 256.60 400.00)"/>
<ellipse cx="269.60" cy="407.40" rx="2.50" ry="3.10" stroke="#000" stroke-width="1.12" fill="#1a1a1a" transform="rotate(20 269.60 407.40)"/>
<ellipse cx="269.10" cy="407.70" rx="0.60" ry="0.90" stroke="#999" stroke-width="0.56" fill="#888" transform="rotate(20 269.10 407.70)"/>
<g transform="translate(280.40 413.60) rotate(27.90)">
<rect x="0" y="-2.5" width="13.74" height="5.0" rx="1.8" fill="#1c1c1c" stroke="#000" stroke-width="0.8"/>
<line x1="2.20" y1="-1.5" x2="3.00" y2="1.5" stroke="#777" stroke-width="0.45"/>
<line x1="4.40" y1="-1.5" x2="5.20" y2="1.5" stroke="#777" stroke-width="0.45"/>
<line x1="6.60" y1="-1.5" x2="7.40" y2="1.5" stroke="#777" stroke-width="0.45"/>
<line x1="8.80" y1="-1.5" x2="9.60" y2="1.5" stroke="#777" stroke-width="0.45"/>
<line x1="11.00" y1="-1.5" x2="11.80" y2="1.5" stroke="#777" stroke-width="0.45"/>
<rect x="13.24" y="-3.9" width="6.0" height="7.8" rx="1.8" fill="#fff" stroke="#000" stroke-width="1.2"/>
<ellipse cx="17.94" cy="0" rx="1.8" ry="2.9" fill="#fff" stroke="#000" stroke-width="0.9"/>
<line x1="13.24" y1="-1.5" x2="17.44" y2="-1.5" stroke="#000" stroke-width="0.7"/>
</g>
<ellipse cx="272.90" cy="418.90" rx="2.57" ry="3.90" stroke="#000" stroke-width="1.12" fill="#fff" transform="rotate(25 272.90 418.90)"/>
<ellipse cx="273.70" cy="419.30" rx="2.57" ry="3.90" stroke="#000" stroke-width="1.29" fill="#fff" transform="rotate(25 273.70 419.30)"/>
<ellipse cx="273.70" cy="419.30" rx="1.25" ry="1.95" stroke="#000" stroke-width="1.01" fill="#fff" transform="rotate(25 273.70 419.30)"/>
<ellipse cx="286.90" cy="426.30" rx="2.50" ry="3.10" stroke="#000" stroke-width="1.12" fill="#1a1a1a" transform="rotate(20 286.90 426.30)"/>
<ellipse cx="286.40" cy="426.60" rx="0.60" ry="0.90" stroke="#999" stroke-width="0.56" fill="#888" transform="rotate(20 286.40 426.60)"/>
<g transform="translate(298.40 433.00) rotate(27.93)">
<rect x="0" y="-2.5" width="13.29" height="5.0" rx="1.8" fill="#1c1c1c" stroke="#000" stroke-width="0.8"/>
<line x1="2.20" y1="-1.5" x2="3.00" y2="1.5" stroke="#777" stroke-width="0.45"/>
<line x1="4.40" y1="-1.5" x2="5.20" y2="1.5" stroke="#777" stroke-width="0.45"/>
<line x1="6.60" y1="-1.5" x2="7.40" y2="1.5" stroke="#777" stroke-width="0.45"/>
<line x1="8.80" y1="-1.5" x2="9.60" y2="1.5" stroke="#777" stroke-width="0.45"/>
<line x1="11.00" y1="-1.5" x2="11.80" y2="1.5" stroke="#777" stroke-width="0.45"/>
<rect x="12.79" y="-3.9" width="6.0" height="7.8" rx="1.8" fill="#fff" stroke="#000" stroke-width="1.2"/>
<ellipse cx="17.49" cy="0" rx="1.8" ry="2.9" fill="#fff" stroke="#000" stroke-width="0.9"/>
<line x1="12.79" y1="-1.5" x2="16.99" y2="-1.5" stroke="#000" stroke-width="0.7"/>
</g>
<line x1="449.80" y1="73.00" x2="449.80" y2="114.00" stroke="#000" stroke-width="1.01" stroke-dasharray="10 2.5"/>
<line x1="449.80" y1="122.00" x2="449.80" y2="133.00" stroke="#000" stroke-width="0.9" />
<ellipse cx="449.80" cy="118.90" rx="8.30" ry="4.70" stroke="#000" stroke-width="1.01" fill="#fff"/>
<ellipse cx="449.80" cy="118.00" rx="8.30" ry="4.70" stroke="#000" stroke-width="1.23" fill="#fff"/>
<ellipse cx="449.80" cy="118.00" rx="2.60" ry="1.50" stroke="#000" stroke-width="1.34" fill="#666"/>
<rect x="446.90" y="133.00" width="5.8" height="14.50" rx="2.2" fill="#1c1c1c" stroke="#000" stroke-width="0.8"/>
<line x1="448.10" y1="136.00" x2="451.50" y2="136.80" stroke="#777" stroke-width="0.45"/>
<line x1="448.10" y1="138.20" x2="451.50" y2="139.00" stroke="#777" stroke-width="0.45"/>
<line x1="448.10" y1="140.40" x2="451.50" y2="141.20" stroke="#777" stroke-width="0.45"/>
<line x1="448.10" y1="142.60" x2="451.50" y2="143.40" stroke="#777" stroke-width="0.45"/>
<line x1="448.10" y1="144.80" x2="451.50" y2="145.60" stroke="#777" stroke-width="0.45"/>
<path d="M444.90,147.50 Q449.80,145.70 454.70,147.50 L454.70,151.10 Q449.80,154.30 444.90,151.10 Z" stroke="#000" stroke-width="1.01" fill="#2a2a2a" stroke-linejoin="round" stroke-linecap="round" />
<rect x="449.60" y="149.10" width="3.8" height="2.0" rx="0.6" fill="#fff" stroke="none"/>
<line x1="503.90" y1="106.00" x2="503.90" y2="147.00" stroke="#000" stroke-width="1.01" stroke-dasharray="10 2.5"/>
<line x1="503.90" y1="153.00" x2="503.90" y2="163.80" stroke="#000" stroke-width="0.9" />
<ellipse cx="503.90" cy="150.70" rx="5.30" ry="3.10" stroke="#000" stroke-width="1.12" fill="#fff"/>
<ellipse cx="503.90" cy="150.00" rx="5.30" ry="3.10" stroke="#000" stroke-width="1.68" fill="#fff"/>
<ellipse cx="503.90" cy="150.00" rx="2.65" ry="1.55" stroke="#000" stroke-width="1.34" fill="#fff"/>
<rect x="501.00" y="163.80" width="5.8" height="15.20" rx="2.2" fill="#1c1c1c" stroke="#000" stroke-width="0.8"/>
<line x1="502.20" y1="166.80" x2="505.60" y2="167.60" stroke="#777" stroke-width="0.45"/>
<line x1="502.20" y1="169.00" x2="505.60" y2="169.80" stroke="#777" stroke-width="0.45"/>
<line x1="502.20" y1="171.20" x2="505.60" y2="172.00" stroke="#777" stroke-width="0.45"/>
<line x1="502.20" y1="173.40" x2="505.60" y2="174.20" stroke="#777" stroke-width="0.45"/>
<line x1="502.20" y1="175.60" x2="505.60" y2="176.40" stroke="#777" stroke-width="0.45"/>
<path d="M499.00,179.00 Q503.90,177.20 508.80,179.00 L508.80,182.60 Q503.90,185.80 499.00,182.60 Z" stroke="#000" stroke-width="1.01" fill="#2a2a2a" stroke-linejoin="round" stroke-linecap="round" />
<rect x="503.70" y="180.60" width="3.8" height="2.0" rx="0.6" fill="#fff" stroke="none"/>
<line x1="526.60" y1="119.00" x2="526.60" y2="160.20" stroke="#000" stroke-width="1.01" stroke-dasharray="10 2.5"/>
<line x1="526.60" y1="166.20" x2="526.60" y2="177.00" stroke="#000" stroke-width="0.9" />
<ellipse cx="526.60" cy="163.90" rx="5.30" ry="3.10" stroke="#000" stroke-width="1.12" fill="#fff"/>
<ellipse cx="526.60" cy="163.20" rx="5.30" ry="3.10" stroke="#000" stroke-width="1.68" fill="#fff"/>
<ellipse cx="526.60" cy="163.20" rx="2.65" ry="1.55" stroke="#000" stroke-width="1.34" fill="#fff"/>
<rect x="523.70" y="177.00" width="5.8" height="15.40" rx="2.2" fill="#1c1c1c" stroke="#000" stroke-width="0.8"/>
<line x1="524.90" y1="180.00" x2="528.30" y2="180.80" stroke="#777" stroke-width="0.45"/>
<line x1="524.90" y1="182.20" x2="528.30" y2="183.00" stroke="#777" stroke-width="0.45"/>
<line x1="524.90" y1="184.40" x2="528.30" y2="185.20" stroke="#777" stroke-width="0.45"/>
<line x1="524.90" y1="186.60" x2="528.30" y2="187.40" stroke="#777" stroke-width="0.45"/>
<line x1="524.90" y1="188.80" x2="528.30" y2="189.60" stroke="#777" stroke-width="0.45"/>
<path d="M521.70,192.40 Q526.60,190.60 531.50,192.40 L531.50,196.00 Q526.60,199.20 521.70,196.00 Z" stroke="#000" stroke-width="1.01" fill="#2a2a2a" stroke-linejoin="round" stroke-linecap="round" />
<rect x="526.40" y="194.00" width="3.8" height="2.0" rx="0.6" fill="#fff" stroke="none"/>
<line x1="556.80" y1="138.00" x2="556.80" y2="177.30" stroke="#000" stroke-width="1.01" stroke-dasharray="10 2.5"/>
<line x1="556.80" y1="183.30" x2="556.80" y2="194.80" stroke="#000" stroke-width="0.9" />
<ellipse cx="556.80" cy="181.00" rx="5.30" ry="3.10" stroke="#000" stroke-width="1.12" fill="#fff"/>
<ellipse cx="556.80" cy="180.30" rx="5.30" ry="3.10" stroke="#000" stroke-width="1.68" fill="#fff"/>
<ellipse cx="556.80" cy="180.30" rx="2.65" ry="1.55" stroke="#000" stroke-width="1.34" fill="#fff"/>
<rect x="553.90" y="194.80" width="5.8" height="15.20" rx="2.2" fill="#1c1c1c" stroke="#000" stroke-width="0.8"/>
<line x1="555.10" y1="197.80" x2="558.50" y2="198.60" stroke="#777" stroke-width="0.45"/>
<line x1="555.10" y1="200.00" x2="558.50" y2="200.80" stroke="#777" stroke-width="0.45"/>
<line x1="555.10" y1="202.20" x2="558.50" y2="203.00" stroke="#777" stroke-width="0.45"/>
<line x1="555.10" y1="204.40" x2="558.50" y2="205.20" stroke="#777" stroke-width="0.45"/>
<line x1="555.10" y1="206.60" x2="558.50" y2="207.40" stroke="#777" stroke-width="0.45"/>
<path d="M551.90,210.00 Q556.80,208.20 561.70,210.00 L561.70,213.60 Q556.80,216.80 551.90,213.60 Z" stroke="#000" stroke-width="1.01" fill="#2a2a2a" stroke-linejoin="round" stroke-linecap="round" />
<rect x="556.60" y="211.60" width="3.8" height="2.0" rx="0.6" fill="#fff" stroke="none"/>
<line x1="474.68" y1="224.34" x2="479.10" y2="221.93" stroke="#000" stroke-width="1.01" />
<line x1="489.14" y1="215.90" x2="500.18" y2="209.88" stroke="#000" stroke-width="1.01" />
<line x1="504.20" y1="207.87" x2="510.22" y2="204.66" stroke="#000" stroke-width="1.01" />
<line x1="527.29" y1="195.82" x2="571.47" y2="170.12" stroke="#000" stroke-width="1.01" />
<line x1="575.48" y1="167.71" x2="602.59" y2="151.65" stroke="#000" stroke-width="1.01" />
<line x1="527.29" y1="228.35" x2="551.39" y2="214.70" stroke="#000" stroke-width="1.01" />
<line x1="562.43" y1="208.67" x2="570.46" y2="203.86" stroke="#000" stroke-width="1.01" />
<line x1="573.47" y1="202.25" x2="602.59" y2="185.78" stroke="#000" stroke-width="1.01" />
<line x1="612.25" y1="144.60" x2="622.82" y2="138.73" stroke="#000" stroke-width="1.01" />
<line x1="633.38" y1="132.16" x2="640.42" y2="128.17" stroke="#000" stroke-width="1.01" />
<line x1="607.56" y1="183.33" x2="623.99" y2="173.24" stroke="#000" stroke-width="1.01" />
<line x1="633.38" y1="167.14" x2="640.42" y2="163.15" stroke="#000" stroke-width="1.01" />
<line x1="602.86" y1="113.62" x2="631.03" y2="130.05" stroke="#000" stroke-width="1.01" />
<line x1="639.25" y1="134.74" x2="668.59" y2="151.17" stroke="#000" stroke-width="1.01" />
<line x1="676.81" y1="156.34" x2="680.33" y2="158.22" stroke="#000" stroke-width="1.01" />
<line x1="688.78" y1="162.91" x2="694.41" y2="166.20" stroke="#000" stroke-width="1.01" />
<line x1="615.77" y1="170.42" x2="647.46" y2="189.20" stroke="#000" stroke-width="1.01" />
<line x1="658.03" y1="195.07" x2="662.72" y2="197.89" stroke="#000" stroke-width="1.01" />
<line x1="669.77" y1="202.82" x2="675.63" y2="206.10" stroke="#000" stroke-width="1.01" />
<ellipse cx="485.10" cy="217.90" rx="2.97" ry="4.50" stroke="#000" stroke-width="1.12" fill="#fff" transform="rotate(-25 485.10 217.90)"/>
<ellipse cx="484.30" cy="218.30" rx="2.97" ry="4.50" stroke="#000" stroke-width="1.68" fill="#fff" transform="rotate(-25 484.30 218.30)"/>
<ellipse cx="484.30" cy="218.30" rx="1.35" ry="2.16" stroke="#000" stroke-width="1.34" fill="#fff" transform="rotate(-25 484.30 218.30)"/>
<ellipse cx="469.20" cy="227.40" rx="4.60" ry="5.00" stroke="#000" stroke-width="1.12" fill="#1a1a1a" transform="rotate(-20 469.20 227.40)"/>
<ellipse cx="468.00" cy="228.20" rx="2.10" ry="2.75" stroke="#999" stroke-width="0.78" fill="#444" transform="rotate(-20 468.00 228.20)"/>
<ellipse cx="630.80" cy="134.80" rx="2.97" ry="4.50" stroke="#000" stroke-width="1.12" fill="#fff" transform="rotate(-25 630.80 134.80)"/>
<ellipse cx="630.00" cy="135.20" rx="2.97" ry="4.50" stroke="#000" stroke-width="1.68" fill="#fff" transform="rotate(-25 630.00 135.20)"/>
<ellipse cx="630.00" cy="135.20" rx="1.35" ry="2.16" stroke="#000" stroke-width="1.34" fill="#fff" transform="rotate(-25 630.00 135.20)"/>
<g transform="translate(640.60 128.60) rotate(-28.41)">
<rect x="0" y="-2.9" width="16.78" height="5.8" rx="1.8" fill="#1c1c1c" stroke="#000" stroke-width="0.8"/>
<line x1="2.20" y1="-1.9" x2="3.00" y2="1.9" stroke="#777" stroke-width="0.45"/>
<line x1="4.40" y1="-1.9" x2="5.20" y2="1.9" stroke="#777" stroke-width="0.45"/>
<line x1="6.60" y1="-1.9" x2="7.40" y2="1.9" stroke="#777" stroke-width="0.45"/>
<line x1="8.80" y1="-1.9" x2="9.60" y2="1.9" stroke="#777" stroke-width="0.45"/>
<line x1="11.00" y1="-1.9" x2="11.80" y2="1.9" stroke="#777" stroke-width="0.45"/>
<line x1="13.20" y1="-1.9" x2="14.00" y2="1.9" stroke="#777" stroke-width="0.45"/>
<rect x="16.28" y="-4.1" width="6.6" height="8.2" rx="2.0" fill="#1c1c1c" stroke="#000" stroke-width="1.0"/>
<line x1="16.58" y1="-2.8999999999999995" x2="16.58" y2="2.8999999999999995" stroke="#999" stroke-width="0.5"/>
<line x1="17.88" y1="1.6999999999999997" x2="21.68" y2="1.6999999999999997" stroke="#888" stroke-width="0.5"/>
</g>
<ellipse cx="630.40" cy="169.80" rx="2.97" ry="4.50" stroke="#000" stroke-width="1.12" fill="#fff" transform="rotate(-25 630.40 169.80)"/>
<ellipse cx="629.60" cy="170.20" rx="2.97" ry="4.50" stroke="#000" stroke-width="1.68" fill="#fff" transform="rotate(-25 629.60 170.20)"/>
<ellipse cx="629.60" cy="170.20" rx="1.35" ry="2.16" stroke="#000" stroke-width="1.34" fill="#fff" transform="rotate(-25 629.60 170.20)"/>
<g transform="translate(640.40 163.60) rotate(-28.61)">
<rect x="0" y="-2.9" width="17.05" height="5.8" rx="1.8" fill="#1c1c1c" stroke="#000" stroke-width="0.8"/>
<line x1="2.20" y1="-1.9" x2="3.00" y2="1.9" stroke="#777" stroke-width="0.45"/>
<line x1="4.40" y1="-1.9" x2="5.20" y2="1.9" stroke="#777" stroke-width="0.45"/>
<line x1="6.60" y1="-1.9" x2="7.40" y2="1.9" stroke="#777" stroke-width="0.45"/>
<line x1="8.80" y1="-1.9" x2="9.60" y2="1.9" stroke="#777" stroke-width="0.45"/>
<line x1="11.00" y1="-1.9" x2="11.80" y2="1.9" stroke="#777" stroke-width="0.45"/>
<line x1="13.20" y1="-1.9" x2="14.00" y2="1.9" stroke="#777" stroke-width="0.45"/>
<line x1="15.40" y1="-1.9" x2="16.20" y2="1.9" stroke="#777" stroke-width="0.45"/>
<rect x="16.55" y="-4.1" width="6.6" height="8.2" rx="2.0" fill="#1c1c1c" stroke="#000" stroke-width="1.0"/>
<line x1="16.85" y1="-2.8999999999999995" x2="16.85" y2="2.8999999999999995" stroke="#999" stroke-width="0.5"/>
<line x1="18.15" y1="1.6999999999999997" x2="21.95" y2="1.6999999999999997" stroke="#888" stroke-width="0.5"/>
</g>
<ellipse cx="670.00" cy="152.80" rx="2.57" ry="3.90" stroke="#000" stroke-width="1.12" fill="#fff" transform="rotate(25 670.00 152.80)"/>
<ellipse cx="670.80" cy="153.20" rx="2.57" ry="3.90" stroke="#000" stroke-width="1.29" fill="#fff" transform="rotate(25 670.80 153.20)"/>
<ellipse cx="670.80" cy="153.20" rx="1.25" ry="1.95" stroke="#000" stroke-width="1.01" fill="#fff" transform="rotate(25 670.80 153.20)"/>
<ellipse cx="683.80" cy="161.20" rx="2.50" ry="3.10" stroke="#000" stroke-width="1.12" fill="#1a1a1a" transform="rotate(20 683.80 161.20)"/>
<ellipse cx="683.30" cy="161.50" rx="0.60" ry="0.90" stroke="#999" stroke-width="0.56" fill="#888" transform="rotate(20 683.30 161.50)"/>
<g transform="translate(694.20 167.60) rotate(24.69)">
<rect x="0" y="-2.5" width="13.65" height="5.0" rx="1.8" fill="#1c1c1c" stroke="#000" stroke-width="0.8"/>
<line x1="2.20" y1="-1.5" x2="3.00" y2="1.5" stroke="#777" stroke-width="0.45"/>
<line x1="4.40" y1="-1.5" x2="5.20" y2="1.5" stroke="#777" stroke-width="0.45"/>
<line x1="6.60" y1="-1.5" x2="7.40" y2="1.5" stroke="#777" stroke-width="0.45"/>
<line x1="8.80" y1="-1.5" x2="9.60" y2="1.5" stroke="#777" stroke-width="0.45"/>
<line x1="11.00" y1="-1.5" x2="11.80" y2="1.5" stroke="#777" stroke-width="0.45"/>
<rect x="13.15" y="-3.9" width="6.0" height="7.8" rx="1.8" fill="#fff" stroke="#000" stroke-width="1.2"/>
<ellipse cx="17.85" cy="0" rx="1.8" ry="2.9" fill="#fff" stroke="#000" stroke-width="0.9"/>
<line x1="13.15" y1="-1.5" x2="17.35" y2="-1.5" stroke="#000" stroke-width="0.7"/>
</g>
<ellipse cx="651.60" cy="192.20" rx="2.57" ry="3.90" stroke="#000" stroke-width="1.12" fill="#fff" transform="rotate(25 651.60 192.20)"/>
<ellipse cx="652.40" cy="192.60" rx="2.57" ry="3.90" stroke="#000" stroke-width="1.29" fill="#fff" transform="rotate(25 652.40 192.60)"/>
<ellipse cx="652.40" cy="192.60" rx="1.25" ry="1.95" stroke="#000" stroke-width="1.01" fill="#fff" transform="rotate(25 652.40 192.60)"/>
<ellipse cx="666.20" cy="200.20" rx="2.50" ry="3.10" stroke="#000" stroke-width="1.12" fill="#1a1a1a" transform="rotate(20 666.20 200.20)"/>
<ellipse cx="665.70" cy="200.50" rx="0.60" ry="0.90" stroke="#999" stroke-width="0.56" fill="#888" transform="rotate(20 665.70 200.50)"/>
<g transform="translate(676.60 207.60) rotate(23.90)">
<rect x="0" y="-2.5" width="13.75" height="5.0" rx="1.8" fill="#1c1c1c" stroke="#000" stroke-width="0.8"/>
<line x1="2.20" y1="-1.5" x2="3.00" y2="1.5" stroke="#777" stroke-width="0.45"/>
<line x1="4.40" y1="-1.5" x2="5.20" y2="1.5" stroke="#777" stroke-width="0.45"/>
<line x1="6.60" y1="-1.5" x2="7.40" y2="1.5" stroke="#777" stroke-width="0.45"/>
<line x1="8.80" y1="-1.5" x2="9.60" y2="1.5" stroke="#777" stroke-width="0.45"/>
<line x1="11.00" y1="-1.5" x2="11.80" y2="1.5" stroke="#777" stroke-width="0.45"/>
<rect x="13.25" y="-3.9" width="6.0" height="7.8" rx="1.8" fill="#fff" stroke="#000" stroke-width="1.2"/>
<ellipse cx="17.95" cy="0" rx="1.8" ry="2.9" fill="#fff" stroke="#000" stroke-width="0.9"/>
<line x1="13.25" y1="-1.5" x2="17.45" y2="-1.5" stroke="#000" stroke-width="0.7"/>
</g>
<line x1="392.90" y1="363.40" x2="392.90" y2="388.00" stroke="#000" stroke-width="1.01" stroke-dasharray="8 3"/>
<line x1="392.90" y1="377.40" x2="435.20" y2="353.20" stroke="#000" stroke-width="1.01" stroke-dasharray="8 3"/>
<line x1="435.20" y1="353.20" x2="435.20" y2="384.00" stroke="#000" stroke-width="1.01" stroke-dasharray="8 3"/>
<line x1="347.43" y1="262.78" x2="374.50" y2="300.40" stroke="#000" stroke-width="1.12" />
<circle cx="374.50" cy="300.40" r="1.2" fill="#000"/>
<line x1="413.13" y1="20.21" x2="441.10" y2="57.20" stroke="#000" stroke-width="1.12" />
<circle cx="441.10" cy="57.20" r="1.2" fill="#000"/>
<line x1="41.20" y1="237.75" x2="72.40" y2="269.20" stroke="#000" stroke-width="1.12" />
<circle cx="72.40" cy="269.20" r="1.2" fill="#000"/>
<line x1="75.15" y1="386.44" x2="107.10" y2="347.60" stroke="#000" stroke-width="1.12" />
<circle cx="107.10" cy="347.60" r="1.2" fill="#000"/>
<line x1="507.94" y1="65.66" x2="493.50" y2="123.70" stroke="#000" stroke-width="1.12" />
<circle cx="493.50" cy="123.70" r="1.2" fill="#000"/>
<line x1="473.04" y1="407.76" x2="452.80" y2="438.40" stroke="#000" stroke-width="1.12" />
<circle cx="452.80" cy="438.40" r="1.2" fill="#000"/>
<line x1="359.16" y1="408.83" x2="343.50" y2="386.10" stroke="#000" stroke-width="1.12" />
<circle cx="343.50" cy="386.10" r="1.2" fill="#000"/>
<line x1="471.98" y1="361.54" x2="450.60" y2="383.00" stroke="#000" stroke-width="1.12" />
<line x1="22.60" y1="350.78" x2="61.00" y2="373.20" stroke="#000" stroke-width="1.12" />
<line x1="87.56" y1="429.17" x2="115.60" y2="406.60" stroke="#000" stroke-width="1.12" />
<line x1="127.62" y1="447.64" x2="140.00" y2="420.60" stroke="#000" stroke-width="1.12" />
<line x1="171.11" y1="466.65" x2="170.60" y2="437.00" stroke="#000" stroke-width="1.12" />
<line x1="172.65" y1="466.77" x2="178.80" y2="431.60" stroke="#000" stroke-width="1.12" />
<line x1="172.15" y1="466.70" x2="180.00" y2="396.60" stroke="#000" stroke-width="1.12" />
<line x1="405.82" y1="123.38" x2="445.40" y2="148.80" stroke="#000" stroke-width="1.12" />
<line x1="469.19" y1="189.42" x2="501.40" y2="183.00" stroke="#000" stroke-width="1.12" />
<line x1="469.33" y1="191.52" x2="523.60" y2="195.00" stroke="#000" stroke-width="1.12" />
<line x1="577.22" y1="249.22" x2="557.60" y2="215.00" stroke="#000" stroke-width="1.12" />
<line x1="683.48" y1="101.77" x2="658.80" y2="117.60" stroke="#000" stroke-width="1.12" />
<line x1="686.10" y1="104.33" x2="657.60" y2="151.40" stroke="#000" stroke-width="1.12" />
<line x1="298.62" y1="469.42" x2="295.00" y2="423.00" stroke="#000" stroke-width="1.12" />
<line x1="301.74" y1="469.79" x2="310.40" y2="443.00" stroke="#000" stroke-width="1.12" />
<line x1="723.20" y1="200.22" x2="710.90" y2="179.30" stroke="#000" stroke-width="1.12" />
<line x1="719.35" y1="208.76" x2="694.60" y2="213.60" stroke="#000" stroke-width="1.12" />
<line x1="294.96" y1="276.86" x2="305.20" y2="317.80" stroke="#000" stroke-width="1.12" />
<line x1="428.83" y1="229.45" x2="465.20" y2="227.00" stroke="#000" stroke-width="1.12" />
<line x1="22.94" y1="323.92" x2="59.60" y2="341.00" stroke="#000" stroke-width="1.12" />
<circle cx="59.60" cy="341.00" r="1.2" fill="#000"/>
<line x1="407.86" y1="95.55" x2="443.00" y2="117.60" stroke="#000" stroke-width="1.12" />
<circle cx="443.00" cy="117.60" r="1.2" fill="#000"/>
<line x1="75.49" y1="410.80" x2="117.20" y2="372.80" stroke="#000" stroke-width="1.12" />
<line x1="110.45" y1="434.82" x2="138.80" y2="388.00" stroke="#000" stroke-width="1.12" />
<line x1="151.71" y1="447.46" x2="168.20" y2="405.40" stroke="#000" stroke-width="1.12" />
<line x1="195.46" y1="450.78" x2="206.20" y2="417.00" stroke="#000" stroke-width="1.12" />
<line x1="194.49" y1="450.54" x2="207.00" y2="383.60" stroke="#000" stroke-width="1.12" />
<line x1="273.30" y1="290.90" x2="289.60" y2="327.40" stroke="#000" stroke-width="1.12" />
<line x1="442.26" y1="210.48" x2="480.60" y2="216.40" stroke="#000" stroke-width="1.12" />
<line x1="548.11" y1="81.77" x2="506.40" y2="148.60" stroke="#000" stroke-width="1.12" />
<line x1="550.28" y1="82.72" x2="529.00" y2="161.00" stroke="#000" stroke-width="1.12" />
<line x1="552.73" y1="82.99" x2="556.60" y2="177.40" stroke="#000" stroke-width="1.12" />
<line x1="636.28" y1="87.82" x2="630.20" y2="131.50" stroke="#000" stroke-width="1.12" />
<line x1="626.79" y1="212.32" x2="629.60" y2="173.80" stroke="#000" stroke-width="1.12" />
<line x1="230.82" y1="437.06" x2="254.80" y2="402.00" stroke="#000" stroke-width="1.12" />
<line x1="263.00" y1="455.22" x2="272.60" y2="422.00" stroke="#000" stroke-width="1.12" />
<line x1="700.83" y1="118.54" x2="673.60" y2="151.40" stroke="#000" stroke-width="1.12" />
<line x1="647.85" y1="230.46" x2="652.00" y2="195.40" stroke="#000" stroke-width="1.12" />
<line x1="247.64" y1="447.89" x2="268.60" y2="409.60" stroke="#000" stroke-width="1.12" />
<line x1="280.11" y1="464.51" x2="286.20" y2="428.60" stroke="#000" stroke-width="1.12" />
<line x1="720.86" y1="129.29" x2="685.20" y2="160.00" stroke="#000" stroke-width="1.12" />
<line x1="667.31" y1="244.31" x2="665.80" y2="202.60" stroke="#000" stroke-width="1.12" />
<circle cx="342.70" cy="256.20" r="8.1" fill="#fff" stroke="#000" stroke-width="1.25"/>
<text transform="translate(342.70 260.65) scale(0.9 1)" text-anchor="middle" font-size="12" font-weight="bold">1</text>
<circle cx="408.25" cy="13.75" r="8.1" fill="#fff" stroke="#000" stroke-width="1.25"/>
<text transform="translate(408.25 18.20) scale(0.9 1)" text-anchor="middle" font-size="12" font-weight="bold">6</text>
<circle cx="35.50" cy="232.00" r="8.1" fill="#fff" stroke="#000" stroke-width="1.25"/>
<text transform="translate(35.50 236.45) scale(0.9 1)" text-anchor="middle" font-size="12" font-weight="bold">10</text>
<circle cx="70.00" cy="392.70" r="8.1" fill="#fff" stroke="#000" stroke-width="1.25"/>
<text transform="translate(70.00 397.15) scale(0.9 1)" text-anchor="middle" font-size="12" font-weight="bold">12</text>
<circle cx="509.90" cy="57.80" r="8.1" fill="#fff" stroke="#000" stroke-width="1.25"/>
<text transform="translate(509.90 62.25) scale(0.9 1)" text-anchor="middle" font-size="12" font-weight="bold">12</text>
<circle cx="477.50" cy="401.00" r="8.1" fill="#fff" stroke="#000" stroke-width="1.25"/>
<text transform="translate(477.50 405.45) scale(0.9 1)" text-anchor="middle" font-size="12" font-weight="bold">13</text>
<circle cx="363.75" cy="415.50" r="8.1" fill="#fff" stroke="#000" stroke-width="1.25"/>
<text transform="translate(363.75 419.95) scale(0.9 1)" text-anchor="middle" font-size="12" font-weight="bold">23</text>
<circle cx="477.70" cy="355.80" r="8.1" fill="#fff" stroke="#000" stroke-width="1.25"/>
<text transform="translate(477.70 360.25) scale(0.9 1)" text-anchor="middle" font-size="12" font-weight="bold">26</text>
<circle cx="15.60" cy="346.70" r="8.1" fill="#fff" stroke="#000" stroke-width="1.25"/>
<text transform="translate(15.60 351.15) scale(0.9 1)" text-anchor="middle" font-size="12" font-weight="bold">27</text>
<circle cx="81.25" cy="434.25" r="8.1" fill="#fff" stroke="#000" stroke-width="1.25"/>
<text transform="translate(81.25 438.70) scale(0.9 1)" text-anchor="middle" font-size="12" font-weight="bold">27</text>
<circle cx="124.25" cy="455.00" r="8.1" fill="#fff" stroke="#000" stroke-width="1.25"/>
<text transform="translate(124.25 459.45) scale(0.9 1)" text-anchor="middle" font-size="12" font-weight="bold">27</text>
<circle cx="171.25" cy="474.75" r="8.1" fill="#fff" stroke="#000" stroke-width="1.25"/>
<text transform="translate(171.25 479.20) scale(0.9 1)" text-anchor="middle" font-size="12" font-weight="bold">27</text>
<circle cx="399.00" cy="119.00" r="8.1" fill="#fff" stroke="#000" stroke-width="1.25"/>
<text transform="translate(399.00 123.45) scale(0.9 1)" text-anchor="middle" font-size="12" font-weight="bold">27</text>
<circle cx="461.25" cy="191.00" r="8.1" fill="#fff" stroke="#000" stroke-width="1.25"/>
<text transform="translate(461.25 195.45) scale(0.9 1)" text-anchor="middle" font-size="12" font-weight="bold">27</text>
<circle cx="581.25" cy="256.25" r="8.1" fill="#fff" stroke="#000" stroke-width="1.25"/>
<text transform="translate(581.25 260.70) scale(0.9 1)" text-anchor="middle" font-size="12" font-weight="bold">27</text>
<circle cx="690.30" cy="97.40" r="8.1" fill="#fff" stroke="#000" stroke-width="1.25"/>
<text transform="translate(690.30 101.85) scale(0.9 1)" text-anchor="middle" font-size="12" font-weight="bold">27</text>
<circle cx="299.25" cy="477.50" r="8.1" fill="#fff" stroke="#000" stroke-width="1.25"/>
<text transform="translate(299.25 481.95) scale(0.9 1)" text-anchor="middle" font-size="12" font-weight="bold">28</text>
<circle cx="727.30" cy="207.20" r="8.1" fill="#fff" stroke="#000" stroke-width="1.25"/>
<text transform="translate(727.30 211.65) scale(0.9 1)" text-anchor="middle" font-size="12" font-weight="bold">28</text>
<circle cx="293.00" cy="269.00" r="8.1" fill="#fff" stroke="#000" stroke-width="1.25"/>
<text transform="translate(293.00 273.45) scale(0.9 1)" text-anchor="middle" font-size="12" font-weight="bold">29</text>
<circle cx="420.75" cy="230.00" r="8.1" fill="#fff" stroke="#000" stroke-width="1.25"/>
<text transform="translate(420.75 234.45) scale(0.9 1)" text-anchor="middle" font-size="12" font-weight="bold">29</text>
<circle cx="15.60" cy="320.50" r="8.1" fill="#fff" stroke="#000" stroke-width="1.25"/>
<text transform="translate(15.60 324.95) scale(0.9 1)" text-anchor="middle" font-size="12" font-weight="bold">30</text>
<circle cx="401.00" cy="91.25" r="8.1" fill="#fff" stroke="#000" stroke-width="1.25"/>
<text transform="translate(401.00 95.70) scale(0.9 1)" text-anchor="middle" font-size="12" font-weight="bold">30</text>
<circle cx="69.50" cy="416.25" r="8.1" fill="#fff" stroke="#000" stroke-width="1.25"/>
<text transform="translate(69.50 420.70) scale(0.9 1)" text-anchor="middle" font-size="12" font-weight="bold">31</text>
<circle cx="106.25" cy="441.75" r="8.1" fill="#fff" stroke="#000" stroke-width="1.25"/>
<text transform="translate(106.25 446.20) scale(0.9 1)" text-anchor="middle" font-size="12" font-weight="bold">31</text>
<circle cx="148.75" cy="455.00" r="8.1" fill="#fff" stroke="#000" stroke-width="1.25"/>
<text transform="translate(148.75 459.45) scale(0.9 1)" text-anchor="middle" font-size="12" font-weight="bold">31</text>
<circle cx="193.00" cy="458.50" r="8.1" fill="#fff" stroke="#000" stroke-width="1.25"/>
<text transform="translate(193.00 462.95) scale(0.9 1)" text-anchor="middle" font-size="12" font-weight="bold">31</text>
<circle cx="270.00" cy="283.50" r="8.1" fill="#fff" stroke="#000" stroke-width="1.25"/>
<text transform="translate(270.00 287.95) scale(0.9 1)" text-anchor="middle" font-size="12" font-weight="bold">31</text>
<circle cx="434.25" cy="209.25" r="8.1" fill="#fff" stroke="#000" stroke-width="1.25"/>
<text transform="translate(434.25 213.70) scale(0.9 1)" text-anchor="middle" font-size="12" font-weight="bold">31</text>
<circle cx="552.40" cy="74.90" r="8.1" fill="#fff" stroke="#000" stroke-width="1.25"/>
<text transform="translate(552.40 79.35) scale(0.9 1)" text-anchor="middle" font-size="12" font-weight="bold">31</text>
<circle cx="637.40" cy="79.80" r="8.1" fill="#fff" stroke="#000" stroke-width="1.25"/>
<text transform="translate(637.40 84.25) scale(0.9 1)" text-anchor="middle" font-size="12" font-weight="bold">31</text>
<circle cx="626.20" cy="220.40" r="8.1" fill="#fff" stroke="#000" stroke-width="1.25"/>
<text transform="translate(626.20 224.85) scale(0.9 1)" text-anchor="middle" font-size="12" font-weight="bold">31</text>
<circle cx="226.25" cy="443.75" r="8.1" fill="#fff" stroke="#000" stroke-width="1.25"/>
<text transform="translate(226.25 448.20) scale(0.9 1)" text-anchor="middle" font-size="12" font-weight="bold">32</text>
<circle cx="260.75" cy="463.00" r="8.1" fill="#fff" stroke="#000" stroke-width="1.25"/>
<text transform="translate(260.75 467.45) scale(0.9 1)" text-anchor="middle" font-size="12" font-weight="bold">32</text>
<circle cx="706.00" cy="112.30" r="8.1" fill="#fff" stroke="#000" stroke-width="1.25"/>
<text transform="translate(706.00 116.75) scale(0.9 1)" text-anchor="middle" font-size="12" font-weight="bold">32</text>
<circle cx="646.90" cy="238.50" r="8.1" fill="#fff" stroke="#000" stroke-width="1.25"/>
<text transform="translate(646.90 242.95) scale(0.9 1)" text-anchor="middle" font-size="12" font-weight="bold">32</text>
<circle cx="243.75" cy="455.00" r="8.1" fill="#fff" stroke="#000" stroke-width="1.25"/>
<text transform="translate(243.75 459.45) scale(0.9 1)" text-anchor="middle" font-size="12" font-weight="bold">33</text>
<circle cx="278.75" cy="472.50" r="8.1" fill="#fff" stroke="#000" stroke-width="1.25"/>
<text transform="translate(278.75 476.95) scale(0.9 1)" text-anchor="middle" font-size="12" font-weight="bold">33</text>
<circle cx="727.00" cy="124.00" r="8.1" fill="#fff" stroke="#000" stroke-width="1.25"/>
<text transform="translate(727.00 128.45) scale(0.9 1)" text-anchor="middle" font-size="12" font-weight="bold">33</text>
<circle cx="667.60" cy="252.40" r="8.1" fill="#fff" stroke="#000" stroke-width="1.25"/>
<text transform="translate(667.60 256.85) scale(0.9 1)" text-anchor="middle" font-size="12" font-weight="bold">33</text>
</svg>
</body></html>
